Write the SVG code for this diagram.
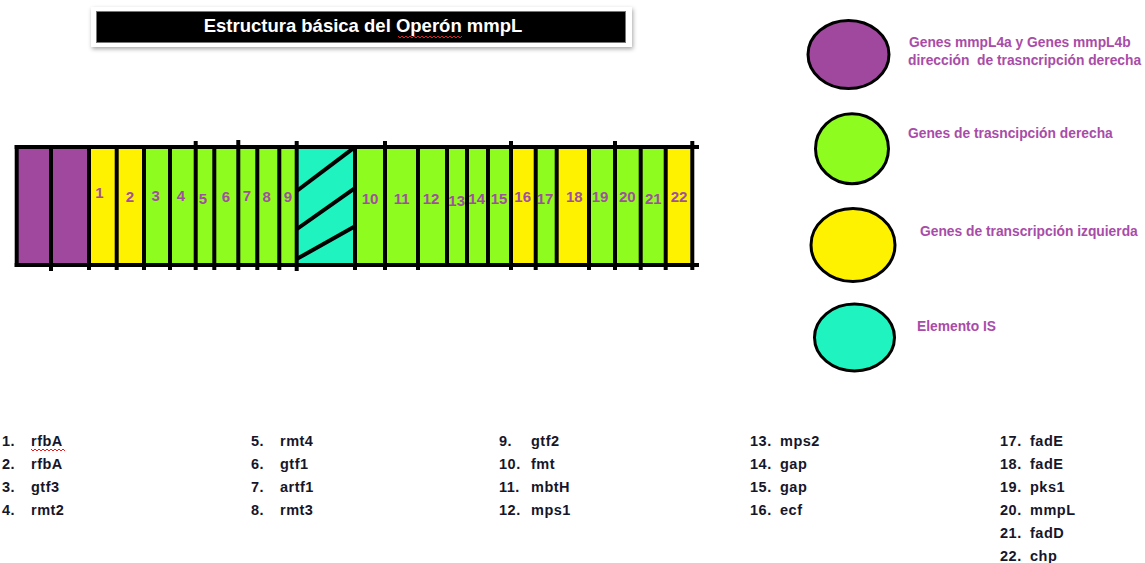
<svg xmlns="http://www.w3.org/2000/svg" width="1145" height="563" viewBox="0 0 1145 563">
  <defs>
    <filter id="shadow" x="-5%" y="-30%" width="110%" height="170%">
      <feDropShadow dx="1" dy="2" stdDeviation="2" flood-color="#000" flood-opacity="0.35"/>
    </filter>
    <style>
      .purple { fill: #a0489e; }
      .yellow { fill: #fff200; }
      .green  { fill: #8ffc1f; }
      .teal   { fill: #1ff4c0; }
      .edge   { stroke: #000; stroke-width: 4; fill: none; stroke-linecap: square; }
      .num    { font-family: "Liberation Sans", Arial, sans-serif; font-weight: bold; font-size: 15px; fill: #a04fa0; text-anchor: middle; }
      .key    { font-family: "Liberation Sans", Arial, sans-serif; font-weight: bold; font-size: 13.8px; fill: #a84ca8; }
      .dot    { stroke: #000; stroke-width: 3; }
      .item   { font-family: "Liberation Sans", Arial, sans-serif; font-weight: bold; font-size: 14.5px; fill: #16162a; letter-spacing: 0.5px; }
      .wavy   { stroke: #e02020; stroke-width: 1; fill: none; }
    </style>
  </defs>

  <rect width="1145" height="563" fill="#fff"/>

  <!-- Title banner -->
  <g id="title">
    <rect x="91" y="7" width="541" height="40" fill="#fff" filter="url(#shadow)"/>
    <rect x="96.5" y="11.5" width="529" height="31" fill="#000" stroke="#777" stroke-width="1"/>
    <text x="363" y="32" font-family="Liberation Sans, Arial, sans-serif" font-weight="bold" font-size="18.5" fill="#fff" text-anchor="middle">Estructura básica del Operón mmpL</text>
    <polyline class="wavy" points="398,36 400,38 402,36 404,38 406,36 408,38 410,36 412,38 414,36 416,38 418,36 420,38 422,36 424,38 426,36 428,38 430,36 432,38 434,36 436,38 438,36 440,38 442,36 444,38 446,36 448,38 450,36 452,38 454,36 456,38 458,36 460,38 462,36"/>
  </g>

  <!-- Operon strip: gene segments -->
  <g id="operon">
    <g id="seg-mmpL4a"><rect class="purple" x="16.7" y="147" width="34.3" height="118"/></g>
    <g id="seg-mmpL4b"><rect class="purple" x="51" y="147" width="38" height="118"/></g>
    <g id="gene-1"><rect class="yellow" x="89" y="147" width="27.7" height="118"/><text class="num" x="99.5" y="198">1</text></g>
    <g id="gene-2"><rect class="yellow" x="116.7" y="147" width="27.3" height="118"/><text class="num" x="130" y="202">2</text></g>
    <g id="gene-3"><rect class="green" x="144" y="147" width="26" height="118"/><text class="num" x="155.7" y="201">3</text></g>
    <g id="gene-4"><rect class="green" x="170" y="147" width="25.7" height="118"/><text class="num" x="181" y="201">4</text></g>
    <g id="gene-5"><rect class="green" x="195.7" y="147" width="18.6" height="118"/><text class="num" x="203" y="204">5</text></g>
    <g id="gene-6"><rect class="green" x="214.3" y="147" width="24" height="118"/><text class="num" x="226" y="202">6</text></g>
    <g id="gene-7"><rect class="green" x="238.3" y="147" width="19" height="118"/><text class="num" x="247" y="201">7</text></g>
    <g id="gene-8"><rect class="green" x="257.3" y="147" width="22" height="118"/><text class="num" x="266.7" y="202">8</text></g>
    <g id="gene-9"><rect class="green" x="279.3" y="147" width="17.4" height="118"/><text class="num" x="288" y="202">9</text></g>
    <g id="is-element">
      <rect class="teal" x="296.7" y="147" width="58.3" height="118"/>
      <line class="edge" x1="298" y1="190" x2="353.3" y2="148.3"/>
      <line class="edge" x1="298" y1="228.3" x2="353.3" y2="189.3"/>
      <line class="edge" x1="298" y1="258.3" x2="353.3" y2="227.3"/>
    </g>
    <g id="gene-10"><rect class="green" x="355" y="147" width="30" height="118"/><text class="num" x="370" y="204">10</text></g>
    <g id="gene-11"><rect class="green" x="385" y="147" width="33" height="118"/><text class="num" x="401.7" y="204">11</text></g>
    <g id="gene-12"><rect class="green" x="418" y="147" width="29" height="118"/><text class="num" x="431" y="204">12</text></g>
    <g id="gene-13"><rect class="green" x="447" y="147" width="20" height="118"/><text class="num" x="456.7" y="206">13</text></g>
    <g id="gene-14"><rect class="green" x="467" y="147" width="21" height="118"/><text class="num" x="476.7" y="204">14</text></g>
    <g id="gene-15"><rect class="green" x="488" y="147" width="23" height="118"/><text class="num" x="499" y="204">15</text></g>
    <g id="gene-16"><rect class="yellow" x="511" y="147" width="24.7" height="118"/><text class="num" x="522.7" y="202">16</text></g>
    <g id="gene-17"><rect class="green" x="535.7" y="147" width="21" height="118"/><text class="num" x="545" y="204">17</text></g>
    <g id="gene-18"><rect class="yellow" x="556.7" y="147" width="32.3" height="118"/><text class="num" x="574.3" y="202">18</text></g>
    <g id="gene-19"><rect class="green" x="589" y="147" width="26" height="118"/><text class="num" x="600" y="202">19</text></g>
    <g id="gene-20"><rect class="green" x="615" y="147" width="25.7" height="118"/><text class="num" x="627.3" y="202">20</text></g>
    <g id="gene-21"><rect class="green" x="640.7" y="147" width="25" height="118"/><text class="num" x="653.3" y="204">21</text></g>
    <g id="gene-22"><rect class="yellow" x="665.7" y="147" width="26.6" height="118"/><text class="num" x="679" y="202">22</text></g>
  </g>

  <!-- Strip outline and gene boundaries -->
  <g id="outline" class="edge">
    <line x1="16.7" y1="147" x2="697" y2="147"/>
    <line x1="16.7" y1="265" x2="697" y2="265"/>
    <line x1="16.7" y1="147" x2="16.7" y2="265"/>
    <line x1="51" y1="147" x2="51" y2="269"/>
    <line x1="89" y1="147" x2="89" y2="268"/>
    <line x1="116.7" y1="147" x2="116.7" y2="268"/>
    <line x1="144" y1="147" x2="144" y2="268"/>
    <line x1="170" y1="147" x2="170" y2="268"/>
    <line x1="195.7" y1="143" x2="195.7" y2="268"/>
    <line x1="214.3" y1="147" x2="214.3" y2="268"/>
    <line x1="238.3" y1="142" x2="238.3" y2="268"/>
    <line x1="257.3" y1="147" x2="257.3" y2="268"/>
    <line x1="279.3" y1="147" x2="279.3" y2="268"/>
    <line x1="296.7" y1="143" x2="296.7" y2="269"/>
    <line x1="355" y1="147" x2="355" y2="268"/>
    <line x1="385" y1="143" x2="385" y2="268"/>
    <line x1="418" y1="147" x2="418" y2="268"/>
    <line x1="447" y1="147" x2="447" y2="265"/>
    <line x1="467" y1="147" x2="467" y2="265"/>
    <line x1="488" y1="147" x2="488" y2="265"/>
    <line x1="511" y1="143" x2="511" y2="268"/>
    <line x1="535.7" y1="147" x2="535.7" y2="268"/>
    <line x1="556.7" y1="147" x2="556.7" y2="265"/>
    <line x1="589" y1="147" x2="589" y2="268"/>
    <line x1="615" y1="143" x2="615" y2="268"/>
    <line x1="640.7" y1="147" x2="640.7" y2="268"/>
    <line x1="665.7" y1="147" x2="665.7" y2="268"/>
    <line x1="692.3" y1="143" x2="692.3" y2="268"/>
  </g>

  <!-- Colour key -->
  <g id="key-purple">
    <ellipse class="purple dot" cx="848.5" cy="54.5" rx="40.5" ry="34"/>
    <text class="key" x="909" y="47">Genes mmpL4a y Genes mmpL4b</text>
    <text class="key" x="908" y="65" xml:space="preserve">dirección  de trasncripción derecha</text>
  </g>
  <g id="key-green">
    <ellipse class="green dot" cx="852" cy="148.7" rx="36.5" ry="35"/>
    <text class="key" x="908" y="138">Genes de trasncipción derecha</text>
  </g>
  <g id="key-yellow">
    <ellipse class="yellow dot" cx="853" cy="245" rx="42" ry="36.5"/>
    <text class="key" x="920" y="236">Genes de transcripción izquierda</text>
  </g>
  <g id="key-teal">
    <ellipse class="teal dot" cx="854.5" cy="337.5" rx="40" ry="33.5"/>
    <text class="key" x="917" y="331">Elemento IS</text>
  </g>

  <!-- Gene list -->
  <g id="gene-list" class="item">
    <text x="2" y="446">1.</text><text x="31" y="446">rfbA</text>
    <text x="2" y="469">2.</text><text x="31" y="469">rfbA</text>
    <text x="2" y="492">3.</text><text x="31" y="492">gtf3</text>
    <text x="2" y="515">4.</text><text x="31" y="515">rmt2</text>

    <text x="251" y="446">5.</text><text x="280" y="446">rmt4</text>
    <text x="251" y="469">6.</text><text x="280" y="469">gtf1</text>
    <text x="251" y="492">7.</text><text x="280" y="492">artf1</text>
    <text x="251" y="515">8.</text><text x="280" y="515">rmt3</text>

    <text x="499" y="446">9.</text><text x="531" y="446">gtf2</text>
    <text x="499" y="469">10.</text><text x="531" y="469">fmt</text>
    <text x="499" y="492">11.</text><text x="531" y="492">mbtH</text>
    <text x="499" y="515">12.</text><text x="531" y="515">mps1</text>

    <text x="750" y="446">13.</text><text x="780" y="446">mps2</text>
    <text x="750" y="469">14.</text><text x="780" y="469">gap</text>
    <text x="750" y="492">15.</text><text x="780" y="492">gap</text>
    <text x="750" y="515">16.</text><text x="780" y="515">ecf</text>

    <text x="1000" y="446">17.</text><text x="1030" y="446">fadE</text>
    <text x="1000" y="469">18.</text><text x="1030" y="469">fadE</text>
    <text x="1000" y="492">19.</text><text x="1030" y="492">pks1</text>
    <text x="1000" y="515">20.</text><text x="1030" y="515">mmpL</text>
    <text x="1000" y="538">21.</text><text x="1030" y="538">fadD</text>
    <text x="1000" y="561">22.</text><text x="1030" y="561">chp</text>
  </g>
  <polyline class="wavy" points="31,449 33,451 35,449 37,451 39,449 41,451 43,449 45,451 47,449 49,451 51,449 53,451 55,449 57,451 59,449 61,451 63,449 65,451"/>
</svg>
